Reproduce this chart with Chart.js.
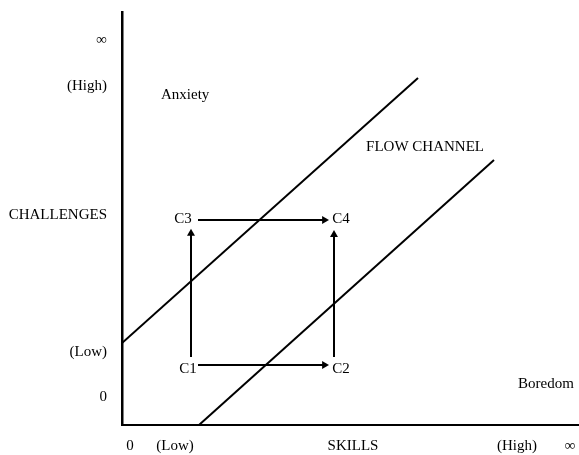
<!DOCTYPE html>
<html>
<head>
<meta charset="utf-8">
<script src="https://cdn.jsdelivr.net/npm/chart.js@4/dist/chart.umd.min.js"></script>
<style>
  html, body { margin: 0; padding: 0; background: #fff; }
  #wrap { width: 579px; height: 455px; }
</style>
</head>
<body>
<div id="wrap"><canvas id="c" width="579" height="455"></canvas></div>
<script>
// Axis ranges (skills on x, challenges on y)
const xRange = [0, 114.25];
const yRange = [0, 103.25];

// Tick labels
const xTickValues = [2, 13.25, 57.75, 98.75, 112];
const xTickLabels = ['0', '(Low)', 'SKILLS', '(High)', '\u221E'];
const yTickValues = [96.25, 84.75, 52.5, 18.25, 7];
const yTickLabels = ['\u221E', '(High)', 'CHALLENGES', '(Low)', '0'];

// Flow channel boundaries
const upperBoundary = [{x: 0, y: 20.5}, {x: 74, y: 86.75}];
const lowerBoundary = [{x: 19.25, y: 0}, {x: 93, y: 66.25}];

// Transitions between states (start, arrow head)
const arrowC1C2 = [{x: 19, y: 15}, {x: 50.6, y: 15}];
const arrowC3C4 = [{x: 19, y: 51.25}, {x: 50.6, y: 51.25}];
const arrowC1C3 = [{x: 17.25, y: 17}, {x: 17.25, y: 47.9}];
const arrowC2C4 = [{x: 53, y: 17}, {x: 53, y: 47.6}];

// Text annotations
const stateLabels = ['C1', 'C2', 'C3', 'C4'];
const stateX = [16.5, 54.75, 15.25, 54.75];
const stateY = [14, 14, 51.5, 51.5];
const regionLabels = ['Anxiety', 'FLOW CHANNEL', 'Boredom'];
const regionX = [9.75, 75.75, 106];
const regionY = [82.5, 69.5, 10.25];
const regionAlign = ['left', 'center', 'center'];

const FONT = '"Liberation Serif", "Times New Roman", serif';

function lineDs(data) {
  return { type: 'line', data, borderColor: '#000', borderWidth: 2, pointRadius: 0,
           showLine: true, fill: false, tension: 0 };
}
function arrowDs(data, rot) {
  return { type: 'line', data, borderColor: '#000', backgroundColor: '#000', borderWidth: 2,
           showLine: true, fill: false, tension: 0,
           pointRadius: [0, 4.6], pointStyle: 'triangle', rotation: rot,
           pointBorderWidth: 0, pointHoverRadius: 0 };
}

const textPlugin = {
  id: 'texts',
  afterDatasetsDraw(chart) {
    const ctx = chart.ctx, xs = chart.scales.x, ys = chart.scales.y;
    ctx.save();
    ctx.fillStyle = '#000';
    ctx.font = '15px ' + FONT;
    ctx.textBaseline = 'middle';
    stateLabels.forEach((t, i) => {
      ctx.textAlign = 'center';
      ctx.fillText(t, xs.getPixelForValue(stateX[i]), ys.getPixelForValue(stateY[i]));
    });
    regionLabels.forEach((t, i) => {
      ctx.textAlign = regionAlign[i];
      ctx.fillText(t, xs.getPixelForValue(regionX[i]), ys.getPixelForValue(regionY[i]));
    });
    ctx.restore();
  }
};

function noPad(s) {
  s.paddingTop = 0; s.paddingBottom = 0; s.paddingLeft = 0; s.paddingRight = 0;
}

new Chart(document.getElementById('c'), {
  type: 'scatter',
  data: {
    datasets: [
      lineDs(upperBoundary),
      lineDs(lowerBoundary),
      arrowDs(arrowC1C2, 90),
      arrowDs(arrowC3C4, 90),
      arrowDs(arrowC1C3, 0),
      arrowDs(arrowC2C4, 0)
    ]
  },
  options: {
    responsive: false,
    animation: false,
    events: [],
    layout: { autoPadding: false, padding: { top: 12, right: 0, left: 0, bottom: 0 } },
    plugins: { legend: { display: false }, tooltip: { enabled: false } },
    scales: {
      x: {
        type: 'linear', min: xRange[0], max: xRange[1],
        grid: { display: false, drawTicks: false },
        border: { display: true, color: '#000', width: 2 },
        afterFit: s => { s.height = 30; noPad(s); },
        afterBuildTicks: s => { s.ticks = xTickValues.map(v => ({ value: v })); },
        ticks: {
          autoSkip: false, maxRotation: 0, padding: 12, color: '#000',
          font: { family: FONT, size: 15 },
          callback: (v, i) => xTickLabels[i]
        }
      },
      y: {
        type: 'linear', min: yRange[0], max: yRange[1],
        grid: { display: false, drawTicks: false },
        border: { display: true, color: '#000', width: 2.5 },
        afterFit: s => { s.width = 122; noPad(s); },
        afterBuildTicks: s => { s.ticks = yTickValues.map(v => ({ value: v })); },
        ticks: {
          autoSkip: false, padding: 15, color: '#000',
          font: { family: FONT, size: 15 },
          callback: (v, i) => yTickLabels[i]
        }
      }
    }
  },
  plugins: [textPlugin]
});
</script>
</body>
</html>
